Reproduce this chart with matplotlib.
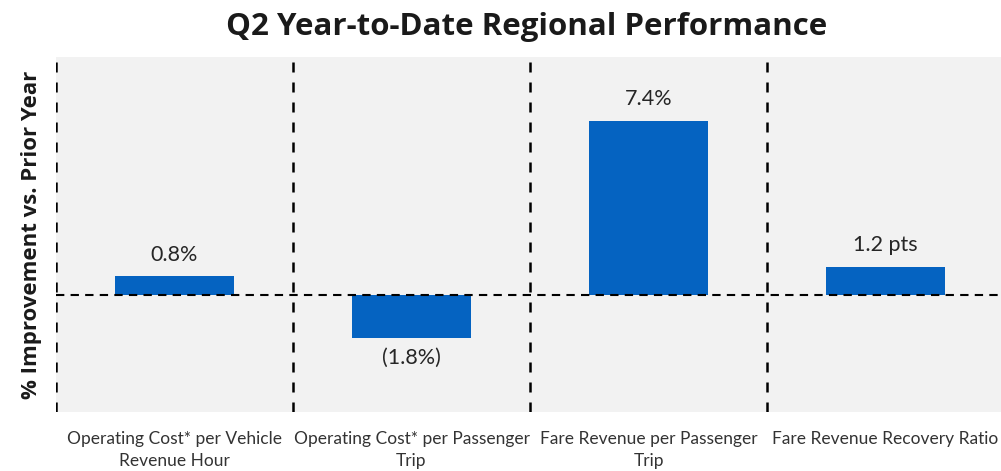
import matplotlib.pyplot as plt

# ===== data =====
categories = ['Operating Cost* per Vehicle\nRevenue Hour',
              'Operating Cost* per Passenger\nTrip',
              'Fare Revenue per Passenger\nTrip',
              'Fare Revenue Recovery Ratio']
values = [0.8, -1.8, 7.4, 1.2]
labels = ['0.8%', '(1.8%)', '7.4%', '1.2 pts']

fig = plt.figure(figsize=(10.01, 4.71), dpi=100)
ax = fig.add_axes([56/1001, 1 - 412/471, 948/1001, 355/471])
ax.set_facecolor('#F2F2F2')

x = list(range(len(values)))
ax.bar(x, values, width=0.5, color='#0563C1', zorder=2)

# data labels
for i, v in enumerate(values):
    if v >= 0:
        ax.text(i, v + 0.5, labels[i], ha='center', va='bottom', fontsize=15.5,
                family='Lato', color='#262626')
    else:
        ax.text(i, v - 0.45, labels[i], ha='center', va='top', fontsize=15.5,
                family='Lato', color='#262626')

# dashed separators and zero line
for b in [-0.5, 0.5, 1.5, 2.5]:
    ax.axvline(b, color='black', linestyle=(0, (4, 4)), linewidth=1.8, zorder=3)
ax.axhline(0, color='black', linestyle=(0, (4, 3)), linewidth=1.5, zorder=3)

ax.set_xlim(-0.5, 3.5)
ax.set_ylim(-4.95, 10.1)
ax.set_yticks([])
ax.set_xticks(x)
ax.set_xticklabels(categories, fontsize=12.5, family='Lato', color='#333333',
                   linespacing=1.45)
ax.tick_params(axis='x', length=0, pad=14)
for s in ax.spines.values():
    s.set_visible(False)

ax.set_ylabel('% Improvement vs. Prior Year', fontsize=16, fontweight='bold',
              family='Open Sans', labelpad=10, color='#1a1a1a')
fig.text(527/1001, 1 - 27/471, 'Q2 Year-to-Date Regional Performance', ha='center', va='center',
         fontsize=22.5, fontweight='bold', family='Open Sans', color='#1a1a1a')

fig.savefig('out.png', dpi=100)
